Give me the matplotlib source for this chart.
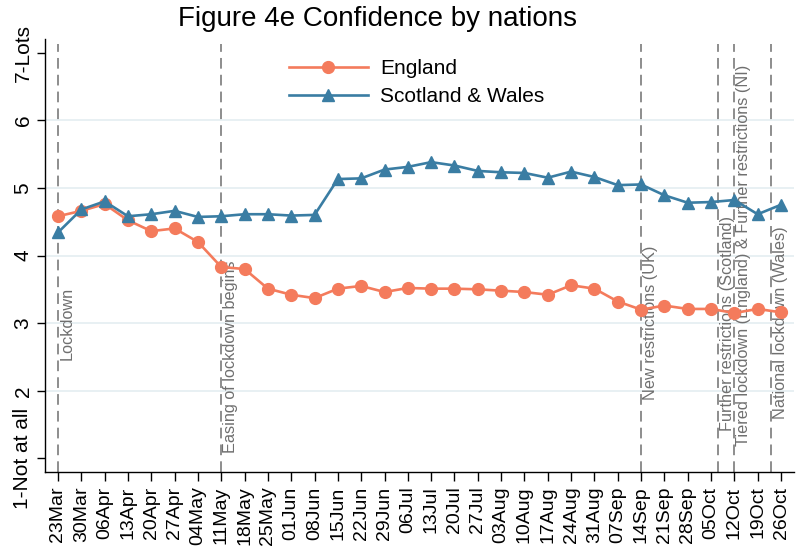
import matplotlib
matplotlib.use("Agg")
import matplotlib.pyplot as plt
import pandas as pd

# weekly survey waves
weeks = [
    "23Mar", "30Mar", "06Apr", "13Apr", "20Apr", "27Apr", "04May", "11May",
    "18May", "25May", "01Jun", "08Jun", "15Jun", "22Jun", "29Jun", "06Jul",
    "13Jul", "20Jul", "27Jul", "03Aug", "10Aug", "17Aug", "24Aug", "31Aug",
    "07Sep", "14Sep", "21Sep", "28Sep", "05Oct", "12Oct", "19Oct", "26Oct",
]
england = [
    4.58, 4.66, 4.76, 4.52, 4.36, 4.40, 4.20, 3.83,
    3.80, 3.51, 3.42, 3.37, 3.51, 3.55, 3.46, 3.52,
    3.51, 3.51, 3.50, 3.48, 3.46, 3.42, 3.56, 3.51,
    3.32, 3.20, 3.26, 3.21, 3.21, 3.15, 3.21, 3.16,
]
scot_wales = [
    4.34, 4.68, 4.80, 4.58, 4.61, 4.66, 4.57, 4.58,
    4.61, 4.61, 4.59, 4.60, 5.13, 5.14, 5.27, 5.31,
    5.38, 5.33, 5.25, 5.23, 5.22, 5.15, 5.24, 5.16,
    5.04, 5.05, 4.89, 4.78, 4.79, 4.82, 4.61, 4.75,
]

# policy events marked with dashed vertical lines
event_days = ["23Mar", "11May", "14Sep", "07Oct", "12Oct", "23Oct"]
event_labels = [
    "Lockdown",
    "Easing of lockdown begins",
    "New restrictions (UK)",
    "Further restrictions (Scotland)",
    "Tiered lockdown (England) & Further restrictions (NI)",
    "National lockdown (Wales)",
]
event_label_y = [3.0, 2.5, 3.0, 3.0, 4.0, 3.0]

yticks = [1, 2, 3, 4, 5, 6, 7]
ytick_labels = ["1-Not at all", "2", "3", "4", "5", "6", "7-Lots"]
grid_levels = [2, 3, 4, 5, 6]

ENG_COLOR = "#F47B5C"
SW_COLOR = "#3A7DA3"
EVENT_COLOR = "#6F6F6F"


def _dates(days):
    return pd.to_datetime([d + "2020" for d in days], format="%d%b%Y")


def main():
    plt.rcParams["font.family"] = ["Liberation Sans", "DejaVu Sans"]
    x = _dates(weeks)
    ev = _dates(event_days)

    fig = plt.figure(figsize=(7.98, 5.58), dpi=100)
    ax = fig.add_axes([45 / 798, 1 - 472 / 558, 749 / 798, 433 / 558])

    for g in grid_levels:
        ax.axhline(g, color="#E6EFF2", linewidth=1.3, zorder=0)

    for d, lab, ly in zip(ev, event_labels, event_label_y):
        ax.axvline(d, ymin=0, ymax=0.988, color=EVENT_COLOR, linewidth=1.1,
                   dashes=(7, 4), zorder=1)
        ax.annotate(lab, xy=(d, ly), xytext=(1.5, 0), textcoords="offset points",
                    rotation=90, ha="left", va="center", fontsize=11.7,
                    color=EVENT_COLOR, zorder=2)

    ax.plot(x, england, color=ENG_COLOR, linewidth=1.9, marker="o",
            markersize=8.5, markeredgecolor=ENG_COLOR, label="England", zorder=3)
    ax.plot(x, scot_wales, color=SW_COLOR, linewidth=1.9, marker="^",
            markersize=8.5, markeredgecolor=SW_COLOR, label="Scotland & Wales",
            zorder=4)

    ax.set_xlim(x[0] - pd.Timedelta(days=3.9), x[-1] + pd.Timedelta(days=3.9))
    ax.set_ylim(0.8, 7.2)
    ax.set_xticks(x)
    ax.set_xticklabels(weeks, rotation=90, fontsize=14)
    ax.set_yticks(yticks)
    ax.set_yticklabels(ytick_labels, rotation=90, va="center", fontsize=15)
    ax.tick_params(axis="x", length=6.5, width=1, pad=4)
    ax.tick_params(axis="y", length=6, width=1, pad=3)
    ax.spines["top"].set_visible(False)
    ax.spines["right"].set_visible(False)
    for s in ("left", "bottom"):
        ax.spines[s].set_linewidth(1)

    ax.legend(loc="center", bbox_to_anchor=(416.5 / 798, 1 - 82.5 / 558),
              bbox_transform=fig.transFigure, frameon=False, fontsize=15,
              handlelength=3.8, handletextpad=0.6, labelspacing=0.45)

    fig.text(377 / 798, 1 - 19 / 558, "Figure 4e Confidence by nations",
             ha="center", va="center", fontsize=20)

    fig.savefig("out.png", dpi=100)
    plt.close(fig)


if __name__ == "__main__":
    main()
